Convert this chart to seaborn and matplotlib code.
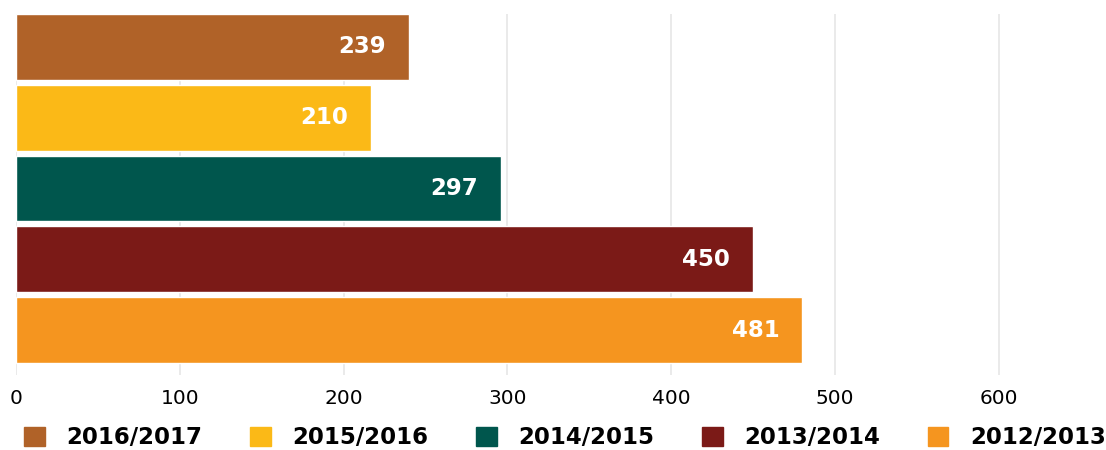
import matplotlib
matplotlib.use("Agg")
import matplotlib.pyplot as plt
import matplotlib.patches as mpatches
import seaborn as sns
import pandas as pd

# data
seasons = ["2016/2017", "2015/2016", "2014/2015", "2013/2014", "2012/2013"]
values = [240, 217, 296, 450, 480]
value_labels = ["239", "210", "297", "450", "481"]
colors = ["#B06228", "#FBB917", "#00564D", "#7B1A17", "#F5951F"]
x_ticks = [0, 100, 200, 300, 400, 500, 600]

df = pd.DataFrame({"season": seasons, "value": values})

sns.set_theme(style="white")
plt.rcParams["font.family"] = ["DejaVu Sans"]

fig = plt.figure(figsize=(11.06, 4.5), dpi=100)
ax = fig.add_axes([0.0145, 0.167, 0.97, 0.802])

sns.barplot(data=df, x="value", y="season", hue="season", palette=colors,
            width=0.93, dodge=False, legend=False, ax=ax, orient="h",
            saturation=1)

for i, (v, lab) in enumerate(zip(values, value_labels)):
    ax.text(v - 14, i, lab, ha="right", va="center", color="white",
            fontsize=16.5, fontweight="bold")

ax.set_xlim(0, 655)
ax.set_ylim(4.63, -0.465)
ax.set_xticks(x_ticks)
ax.set_xticklabels([str(t) for t in x_ticks], fontsize=14.5, color="black")
ax.set_yticks([])
ax.set_xlabel("")
ax.set_ylabel("")
ax.grid(axis="x", color="#e6e6e6", linewidth=1.2)
ax.set_axisbelow(True)
for s in ax.spines.values():
    s.set_visible(False)
ax.tick_params(axis="x", length=0, pad=10)

handles = [mpatches.Patch(color=c, label=s) for s, c in zip(seasons, colors)]
leg = fig.legend(handles=handles, loc="center", ncol=5,
                 bbox_to_anchor=(0.022, 0.0, 0.978, 0.054), mode="expand",
                 frameon=False, borderaxespad=0, borderpad=0,
                 handlelength=0.9, handleheight=0.9,
                 handletextpad=0.95, prop={"size": 16.5, "weight": "bold"})
for t in leg.get_texts():
    t.set_color("black")

fig.savefig("out.png", dpi=100)
